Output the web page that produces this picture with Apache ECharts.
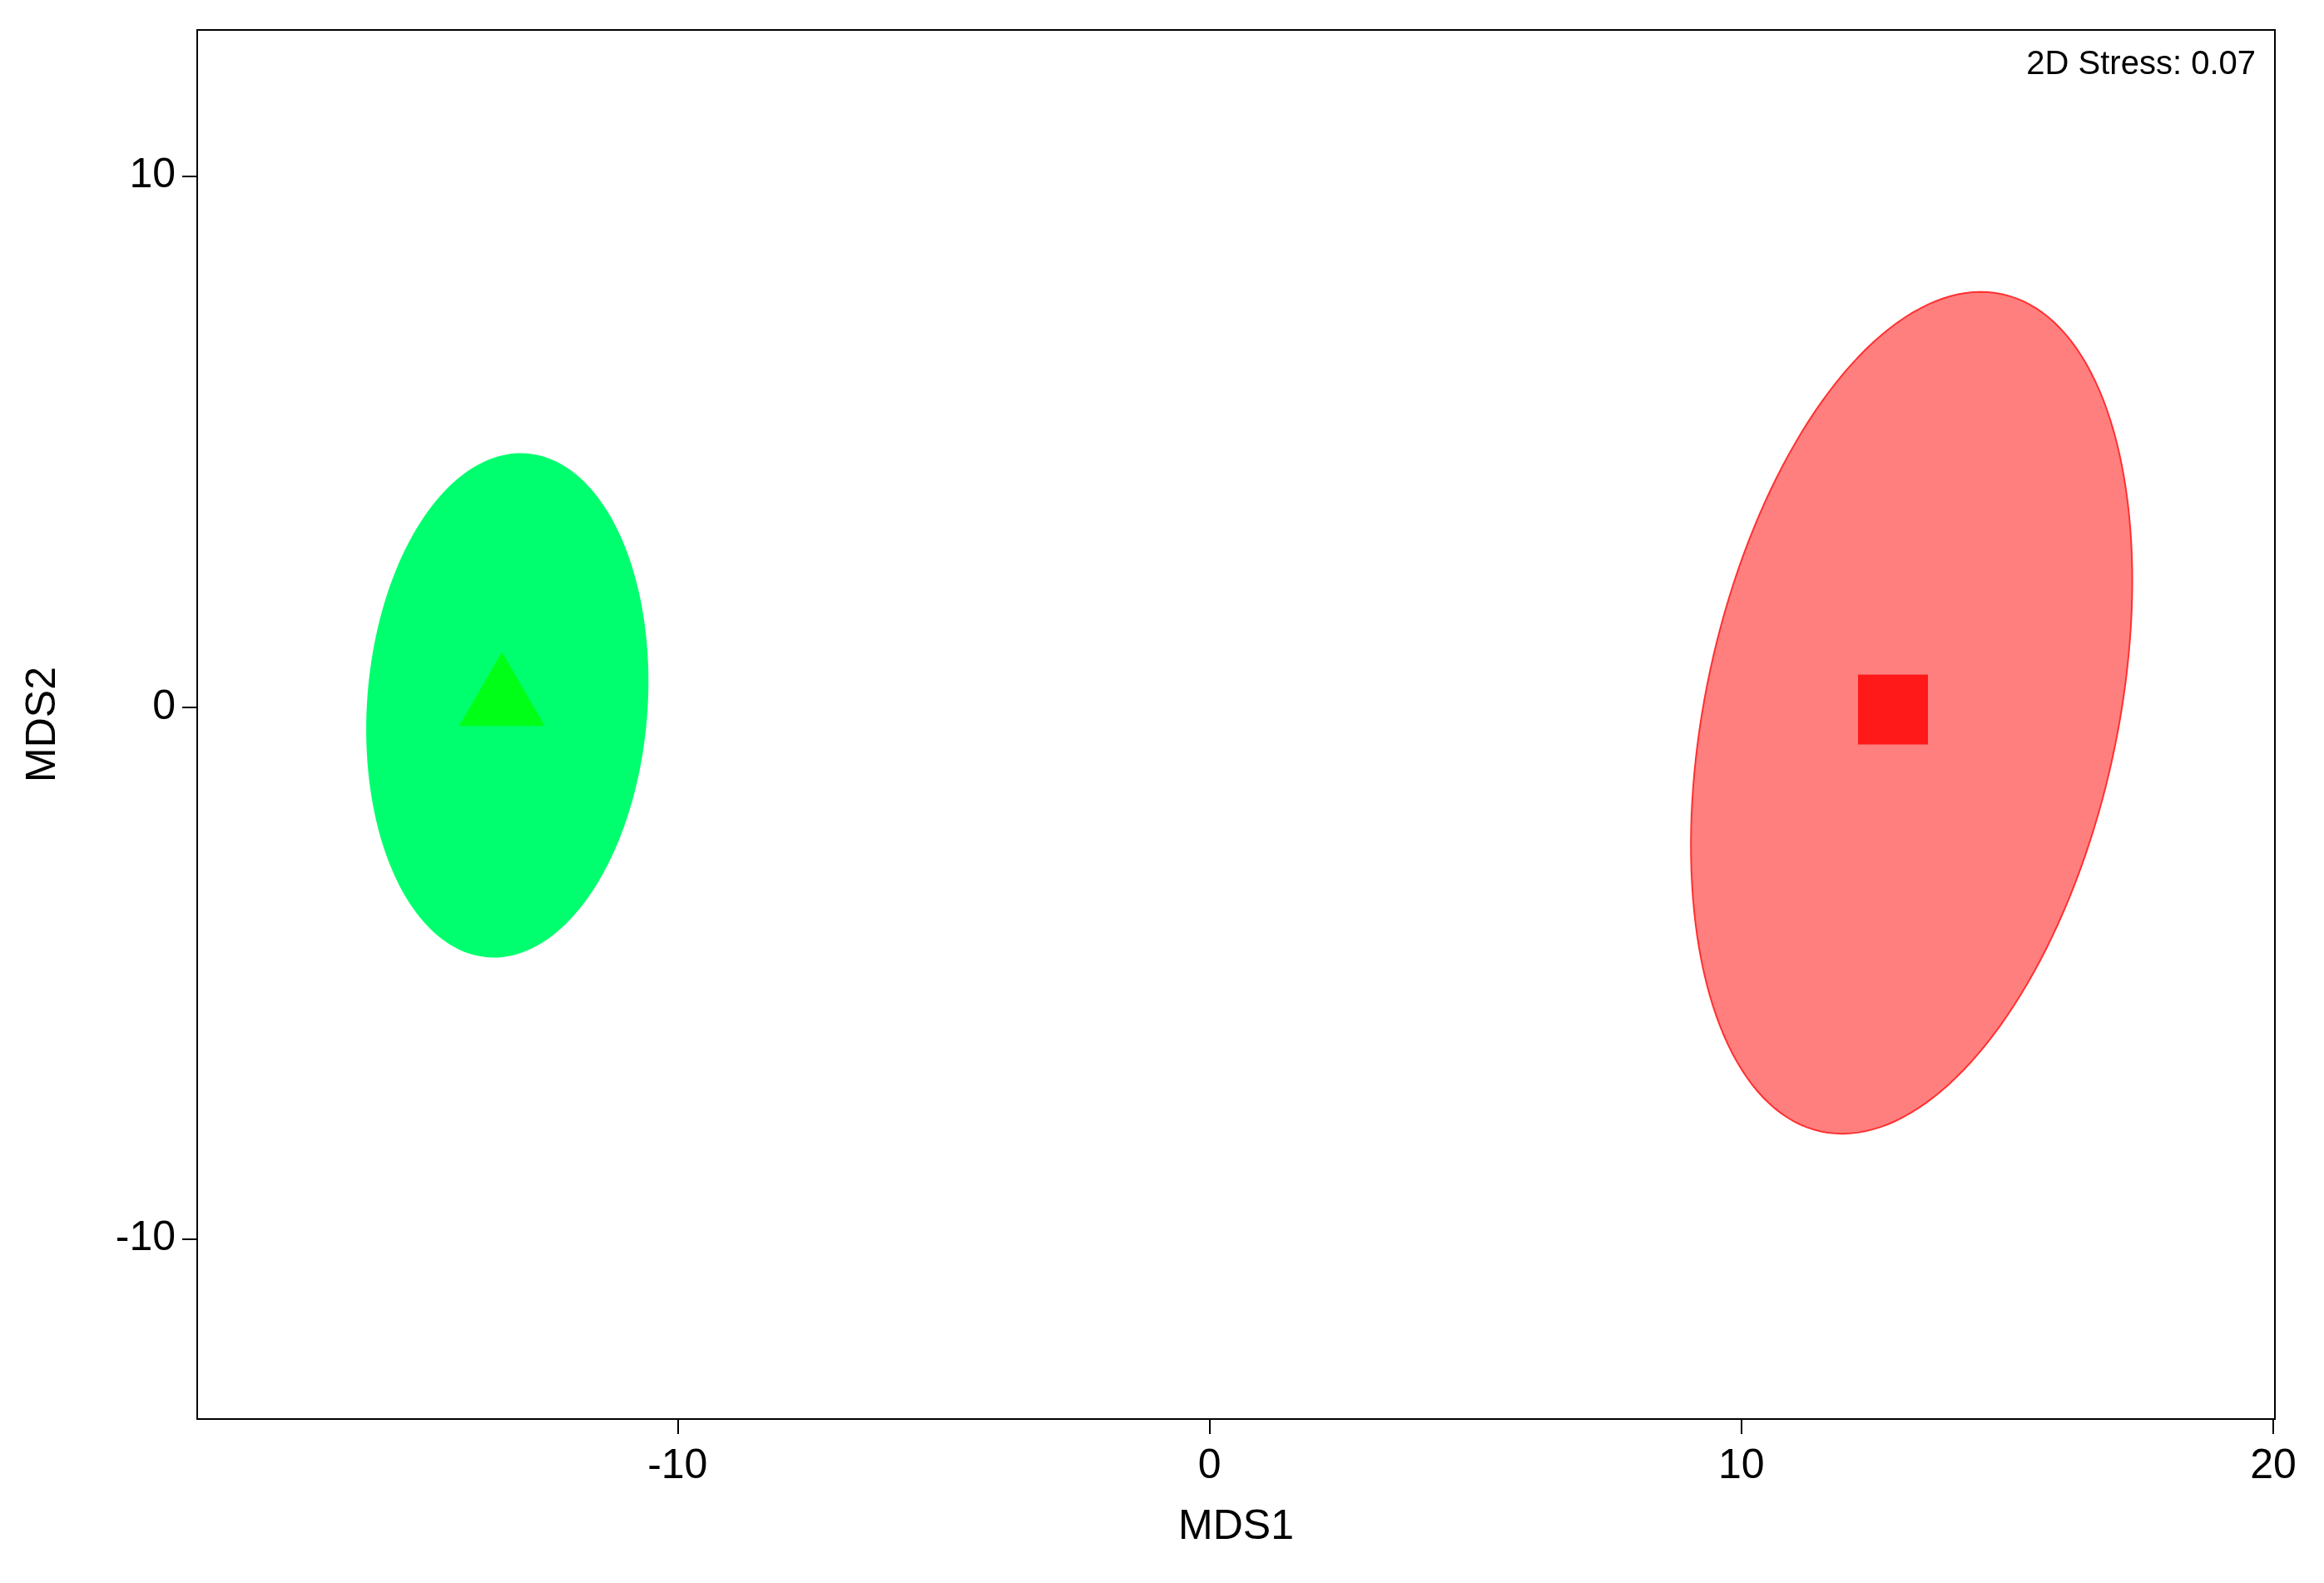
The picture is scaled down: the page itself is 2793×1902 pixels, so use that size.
<!DOCTYPE html>
<html>
<head>
<meta charset="utf-8">
<script src="https://cdn.jsdelivr.net/npm/echarts@6/dist/echarts.min.js"></script>
<style>html,body{margin:0;padding:0;background:#fff}#chart{width:2793px;height:1902px}</style>
</head>
<body>
<div id="chart"></div>
<script>
// group centroids
const groupNames = ['Green', 'Red'];
const centroidX = [-13.3, 12.85];
const centroidY = [0.35, -0.04];
// ellipse parameters: centre, semi axes, angle (deg from x axis)
const ellCx = [-13.2, 13.2];
const ellCy = [0.04, -0.1];
const ellA = [4.74, 8.06];
const ellB = [2.62, 3.87];
const ellAngle = [85.6, 77.8];
const fillColors = ['#00ff6e', '#ff7f7f'];
const edgeColors = ['#00ff6e', '#ff3030'];
const markColors = ['#00ff00', '#ff0000'];
const xTicks = [-10, 0, 10, 20];
const yTicks = [-10, 0, 10];
const stressText = '2D Stress: 0.07';

const chart = echarts.init(document.getElementById('chart'));
const font = 'Liberation Sans, Arial, sans-serif';

function ellipseItem(params, api) {
  const i = params.dataIndex;
  const th = ellAngle[i] * Math.PI / 180;
  const pts = [];
  for (let k = 0; k < 180; k++) {
    const t = k / 180 * Math.PI * 2;
    const ex = ellA[i] * Math.cos(t), ey = ellB[i] * Math.sin(t);
    pts.push(api.coord([ellCx[i] + ex * Math.cos(th) - ey * Math.sin(th),
                        ellCy[i] + ex * Math.sin(th) + ey * Math.cos(th)]));
  }
  return {
    type: 'polygon',
    shape: { points: pts },
    style: { fill: fillColors[i], stroke: edgeColors[i], lineWidth: 2 }
  };
}

const option = {
  backgroundColor: '#fff',
  animation: false,
  grid: { left: 237, right: 59, top: 36, bottom: 197, show: true, borderColor: '#000', borderWidth: 2 },
  xAxis: {
    type: 'value', min: -19.03, max: 20.03,
    name: 'MDS1', nameLocation: 'middle', nameGap: 105,
    nameTextStyle: { fontFamily: font, fontSize: 50, color: '#000' },
    splitLine: { show: false },
    axisLine: { onZero: false, lineStyle: { color: '#000', width: 2 } },
    axisTick: { show: true, length: 18, lineStyle: { color: '#000', width: 2 }, customValues: xTicks },
    axisLabel: { fontFamily: font, fontSize: 50, color: '#000', margin: 32, customValues: xTicks }
  },
  yAxis: {
    type: 'value', min: -13.39, max: 12.75,
    name: 'MDS2', nameLocation: 'middle', nameGap: 160,
    nameTextStyle: { fontFamily: font, fontSize: 50, color: '#000' },
    splitLine: { show: false },
    axisLine: { onZero: false, lineStyle: { color: '#000', width: 2 } },
    axisTick: { show: true, length: 18, lineStyle: { color: '#000', width: 2 }, customValues: yTicks },
    axisLabel: { fontFamily: font, fontSize: 50, color: '#000', margin: 26, customValues: yTicks }
  },
  graphic: [{
    type: 'text', right: 82, top: 58,
    style: { text: stressText, font: '40px ' + font, fill: '#000' }
  }],
  series: [
    {
      type: 'custom',
      renderItem: ellipseItem,
      data: groupNames.map((n, i) => [ellCx[i], ellCy[i]]),
      z: 1
    },
    {
      type: 'scatter',
      symbol: 'triangle', symbolSize: [103, 89],
      itemStyle: { color: markColors[0] },
      data: [[centroidX[0], centroidY[0]]],
      z: 3
    },
    {
      type: 'scatter',
      symbol: 'rect', symbolSize: 84,
      itemStyle: { color: markColors[1] },
      data: [[centroidX[1], centroidY[1]]],
      z: 3
    }
  ]
};
chart.setOption(option);
</script>
</body>
</html>
